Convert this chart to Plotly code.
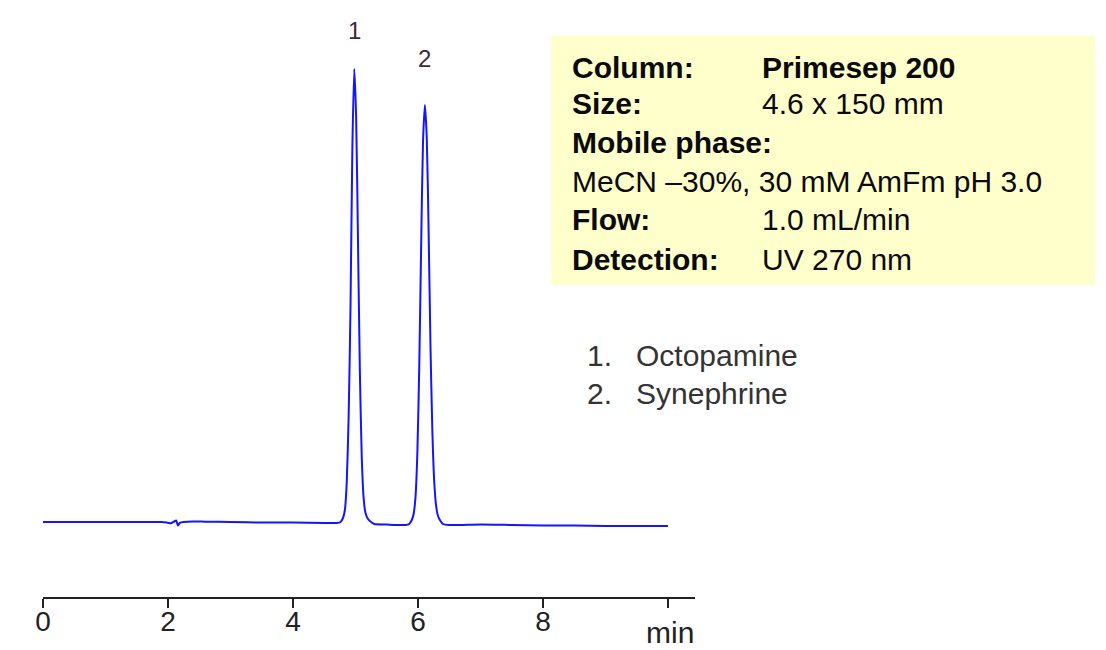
import plotly.graph_objects as go

# ---- data ----
time_min = [0.0, 0.5, 1.0, 1.5, 1.9, 2.0, 2.05, 2.1, 2.13, 2.16, 2.19, 2.25, 2.4, 2.6, 3.0, 3.5, 4.0, 4.5,
            4.70, 4.76, 4.80, 4.83, 4.86, 4.89, 4.92, 4.95, 4.98, 5.01, 5.04, 5.07, 5.10, 5.13, 5.16, 5.20, 5.25, 5.30,
            5.50, 5.70, 5.80, 5.86, 5.90, 5.93, 5.96, 5.99, 6.02, 6.05, 6.08, 6.11, 6.14, 6.17, 6.20, 6.23, 6.26,
            6.29, 6.32, 6.36, 6.40, 6.50, 7.0, 7.5, 8.0, 8.5, 9.0, 9.5, 10.0]
signal = [0.0, 0.0, 0.0, 0.0, 0.0, -0.8, -1.2, 0.5, 1.5, -3.5, -0.8, 0.0, 0.5, 0.3, 0.0, -0.5, -0.5, -1.0,
          -1.0, 0.0, 4, 12, 40, 105, 215, 375, 453, 405, 280, 150, 65, 24, 9, 3, 0, -2,
          -2.5, -3, -3, -2, 2, 8, 25, 70, 155, 275, 380, 417, 385, 290, 175, 90, 40,
          16, 6, 1, -2, -3, -2.5, -3, -3.5, -3.5, -4, -4, -4]

peak_times = [4.98, 6.11]
peak_labels = ["1", "2"]
tick_vals = [0, 2, 4, 6, 8, 10]
tick_text = ["0", "2", "4", "6", "8", ""]

info_keys = ["Column:", "Size:", "Mobile phase:", "", "Flow:", "Detection:"]
info_vals = ["Primesep 200", "4.6 x 150 mm", "", "", "1.0 mL/min", "UV 270 nm"]
info_full_line = "MeCN \u201330%, 30 mM AmFm pH 3.0"
compound_nums = ["1.", "2."]
compound_names = ["Octopamine", "Synephrine"]

# ---- layout geometry (screen pixels; page body has an 8px offset) ----
OFF = 8
W, H = 1106, 650
SX0, SX1 = 43, 695      # plot area left/right on screen
SY0, SY1 = 20, 597      # plot area top/bottom on screen
L, T = SX0 - OFF, SY0 - OFF
R = W - (SX1 - OFF)
B = H - (SY1 - OFF)
PW, PH = SX1 - SX0, SY1 - SY0
BASE_Y = 522            # screen y of zero signal


def px(x):
    return (x - SX0) / PW


def py(y):
    return 1 - (y - SY0) / PH


FONT = "Liberation Sans, Arial, sans-serif"

fig = go.Figure()
fig.add_trace(go.Scatter(x=time_min, y=signal, mode="lines",
                         line=dict(color="#1414ff", width=2, shape="spline", smoothing=0.6),
                         hoverinfo="skip", showlegend=False))

annotations = []
for t, lab, yy in zip(peak_times, peak_labels, [31, 58]):
    annotations.append(dict(x=t, xref="x", y=py(yy), yref="paper", text=lab, showarrow=False,
                            xanchor="center", yanchor="middle",
                            font=dict(family=FONT, size=24, color="#3a2a3a")))

# info box
row_y = [68, 103, 142, 181, 220, 259]
for k, v, yy in zip(info_keys, info_vals, row_y):
    if k:
        annotations.append(dict(x=px(570), y=py(yy), xref="paper", yref="paper", text="<b>" + k + "</b>",
                                showarrow=False, xanchor="left", yanchor="middle",
                                font=dict(family=FONT, size=30, color="#0a0a0a")))
    if v:
        txt = "<b>" + v + "</b>" if k == "Column:" else v
        annotations.append(dict(x=px(760), y=py(yy), xref="paper", yref="paper", text=txt,
                                showarrow=False, xanchor="left", yanchor="middle",
                                font=dict(family=FONT, size=30, color="#0a0a0a")))
annotations.append(dict(x=px(570), y=py(row_y[3]), xref="paper", yref="paper", text=info_full_line,
                        showarrow=False, xanchor="left", yanchor="middle",
                        font=dict(family=FONT, size=30, color="#0a0a0a")))

for n, name, yy in zip(compound_nums, compound_names, [355, 393]):
    annotations.append(dict(x=px(585), y=py(yy), xref="paper", yref="paper", text=n,
                            showarrow=False, xanchor="left", yanchor="middle",
                            font=dict(family=FONT, size=30, color="#333333")))
    annotations.append(dict(x=px(634), y=py(yy), xref="paper", yref="paper", text=name,
                            showarrow=False, xanchor="left", yanchor="middle",
                            font=dict(family=FONT, size=30, color="#333333")))

annotations.append(dict(x=px(670), y=py(632), xref="paper", yref="paper", text="min",
                        showarrow=False, xanchor="center", yanchor="middle",
                        font=dict(family=FONT, size=30, color="#222222")))

shapes = [dict(type="rect", xref="paper", yref="paper", x0=px(551), x1=px(1095), y0=py(285), y1=py(36),
               fillcolor="#ffffcc", line=dict(width=0), layer="below")]

fig.update_layout(
    width=W, height=H,
    margin=dict(l=L, r=R, t=T, b=B),
    paper_bgcolor="white", plot_bgcolor="white",
    annotations=annotations, shapes=shapes,
    xaxis=dict(range=[0, PW / 62.5], tickvals=tick_vals, ticktext=tick_text,
               showline=True, linecolor="#222222", linewidth=1.5,
               ticks="outside", ticklen=9, tickwidth=1.5, tickcolor="#222222",
               ticklabelstandoff=-10,
               showgrid=False, zeroline=False,
               tickfont=dict(family=FONT, size=28, color="#222222")),
    yaxis=dict(range=[BASE_Y - SY1, BASE_Y - SY0], visible=False, showgrid=False, zeroline=False),
)

fig.write_html("out.html")
